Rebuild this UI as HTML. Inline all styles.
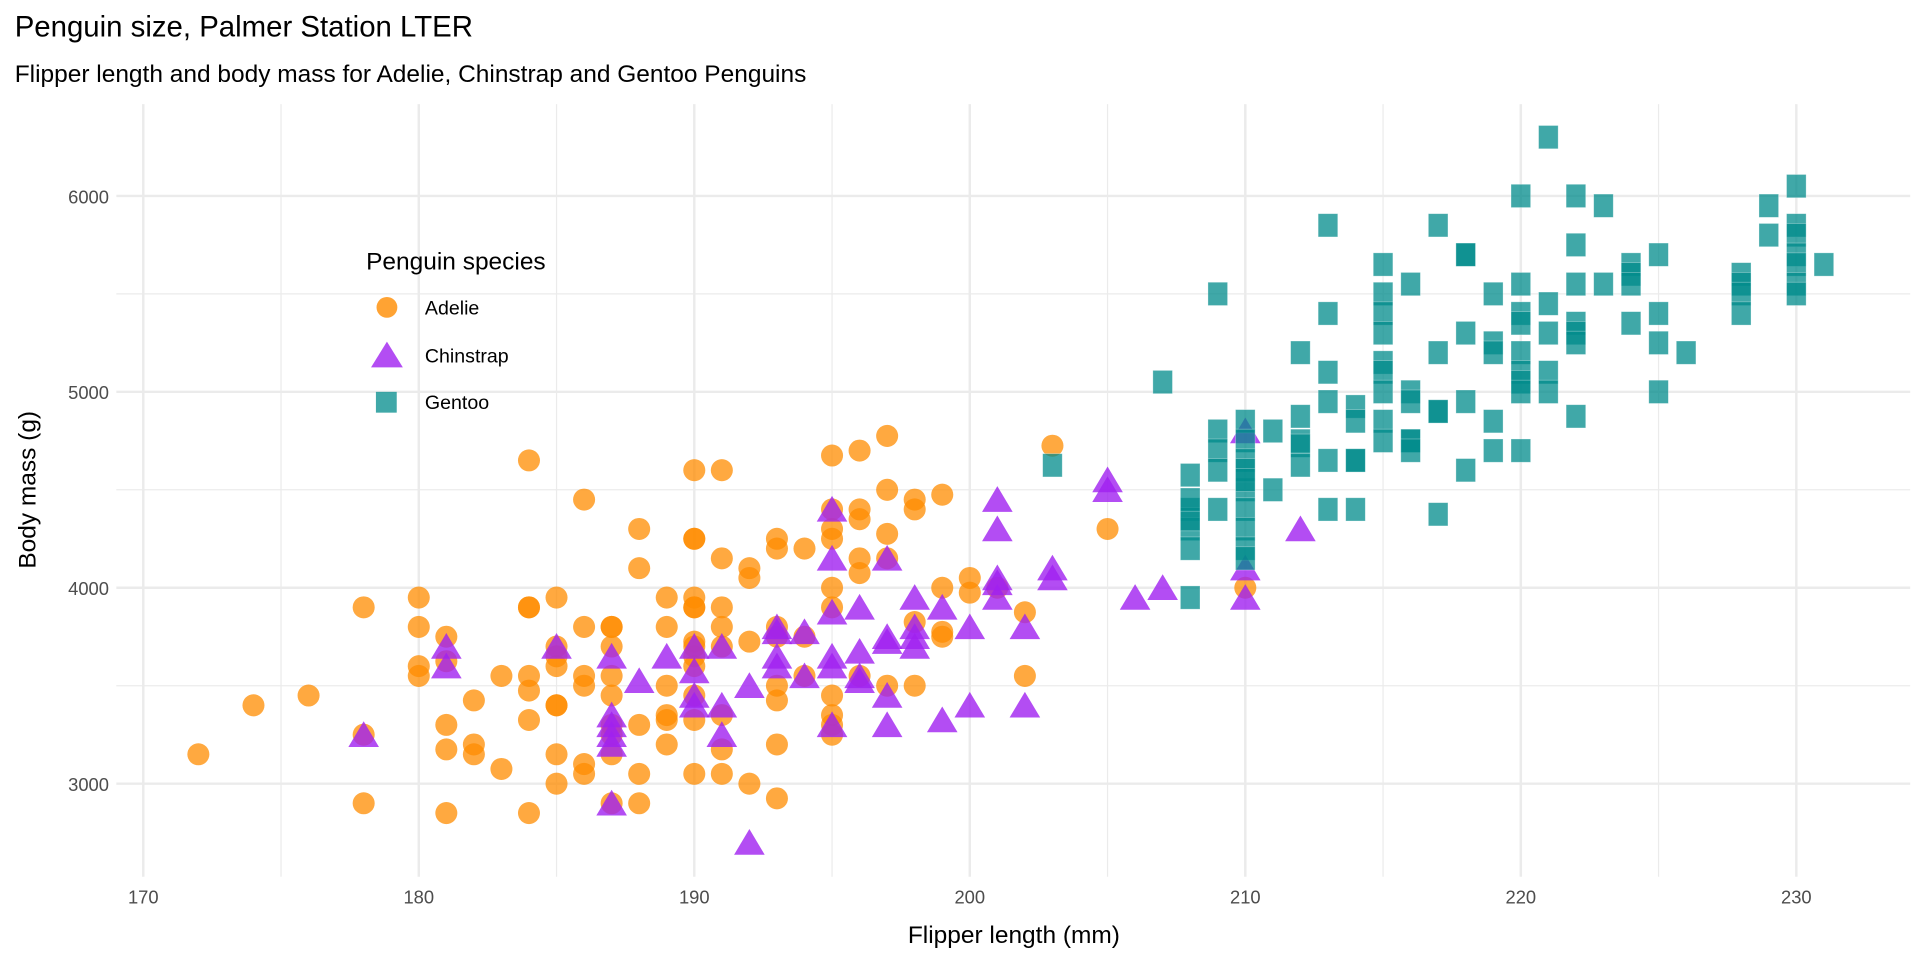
<!DOCTYPE html>
<html><head><meta charset="utf-8"><style>
html,body{margin:0;padding:0;background:#fff;overflow:hidden;}
svg text{font-family:"Liberation Sans",Arial,sans-serif;}
</style></head><body>
<svg id="chart" width="1920" height="960" viewBox="0 0 1568 784" xmlns="http://www.w3.org/2000/svg">
<rect width="1568" height="784" fill="#fff"/>
<text x="12" y="30" font-size="24" fill="#000">Penguin size, Palmer Station LTER</text>
<text x="12" y="67" font-size="20" fill="#000">Flipper length and body mass for Adelie, Chinstrap and Gentoo Penguins</text>
<g id="grid"></g>
<g id="xticks"></g>
<g id="yticks"></g>
<g id="points"></g>
<text x="828" y="770" font-size="20" text-anchor="middle" fill="#000">Flipper length (mm)</text>
<text transform="translate(29,400) rotate(-90)" font-size="20" text-anchor="middle" fill="#000">Body mass (g)</text>
<g>
<text x="299" y="220" font-size="20" fill="#000">Penguin species</text>
<circle cx="316" cy="251" r="8.5" fill="#FF8C00" fill-opacity="0.8"/>
<text x="347" y="257" font-size="16">Adelie</text>
<polygon points="316,279 329,300 303,300" fill="#A020F0" fill-opacity="0.8"/>
<text x="347" y="296" font-size="16">Chinstrap</text>
<rect x="307" y="320" width="17" height="17" fill="#008B8B" fill-opacity="0.75"/>
<text x="347" y="334" font-size="16">Gentoo</text>
</g>
</svg>
<script>
const xTicks=[170,180,190,200,210,220,230];
const yTicks=[3000,4000,5000,6000];
const adelie=[[172,3150],[174,3400],[176,3450],[178,3900],[178,3250],[178,2900],[180,3950],[180,3800],[180,3600],[180,3550],[181,3750],[181,3625],[181,3300],[181,3175],[181,2850],[182,3425],[182,3200],[182,3150],[183,3550],[183,3075],[184,4650],[184,3900],[184,3900],[184,3550],[184,3475],[184,3325],[184,2850],[185,3950],[185,3700],[185,3650],[185,3600],[185,3400],[185,3400],[185,3150],[185,3000],[186,4450],[186,3800],[186,3550],[186,3500],[186,3100],[186,3050],[187,3800],[187,3800],[187,3700],[187,3550],[187,3450],[187,3300],[187,3250],[187,3150],[187,2900],[188,4300],[188,4100],[188,3300],[188,3050],[188,2900],[189,3950],[189,3800],[189,3500],[189,3350],[189,3325],[189,3200],[190,4600],[190,4250],[190,4250],[190,3950],[190,3900],[190,3900],[190,3725],[190,3700],[190,3650],[190,3600],[190,3450],[190,3325],[190,3050],[191,4600],[191,4150],[191,3900],[191,3800],[191,3700],[191,3350],[191,3175],[191,3050],[192,4100],[192,4050],[192,3725],[192,3000],[193,4250],[193,4200],[193,3800],[193,3750],[193,3500],[193,3425],[193,3200],[193,2925],[194,4200],[194,3550],[194,3750],[195,4675],[195,4400],[195,4300],[195,4250],[195,4000],[195,3900],[195,3450],[195,3350],[195,3300],[195,3250],[196,4700],[196,4400],[196,4350],[196,4150],[196,4075],[196,3550],[197,4775],[197,4500],[197,4275],[197,4150],[197,3500],[198,4450],[198,4400],[198,3825],[198,3500],[199,4475],[199,4000],[199,3775],[199,3750],[200,4050],[200,3975],[201,4000],[202,3875],[202,3550],[203,4725],[205,4300],[210,4000]];
const chinstrap=[[178,3250],[181,3700],[181,3600],[185,3700],[187,3650],[187,3350],[187,3300],[187,3250],[187,3200],[187,2900],[188,3525],[189,3650],[190,3700],[190,3575],[190,3450],[190,3400],[191,3400],[191,3250],[191,3700],[192,3500],[192,2700],[193,3800],[193,3775],[193,3650],[193,3600],[194,3775],[194,3550],[195,4400],[195,4150],[195,3875],[195,3650],[195,3600],[195,3300],[196,3900],[196,3675],[196,3525],[196,3550],[197,4150],[197,3750],[197,3725],[197,3450],[197,3300],[198,3950],[198,3800],[198,3750],[198,3700],[199,3900],[199,3325],[200,3800],[200,3400],[201,4450],[201,4300],[201,4050],[201,4025],[201,3950],[202,3800],[202,3400],[203,4100],[203,4050],[205,4550],[205,4500],[206,3950],[207,4000],[210,4800],[210,4100],[210,3950],[212,4300]];
const gentoo=[[203,4625],[207,5050],[208,4575],[208,4400],[208,4300],[208,4200],[208,3950],[208,4350],[208,4450],[209,5500],[209,4800],[209,4700],[209,4600],[209,4400],[210,4850],[210,4750],[210,4650],[210,4500],[210,4400],[210,4300],[210,4200],[210,4150],[210,4600],[210,4550],[211,4800],[211,4500],[212,5200],[212,4875],[212,4750],[212,4725],[212,4625],[213,5850],[213,5400],[213,5100],[213,4950],[213,4650],[213,4400],[214,4925],[214,4850],[214,4650],[214,4650],[214,4400],[215,5650],[215,5500],[215,5400],[215,5300],[215,5150],[215,5100],[215,5000],[215,4850],[215,4750],[216,5550],[216,5000],[216,4950],[216,4750],[216,4750],[216,4700],[217,5850],[217,5200],[217,4900],[217,4900],[217,4375],[218,5700],[218,5700],[218,5300],[218,4950],[218,4600],[219,5500],[219,5250],[219,5200],[219,4850],[219,4700],[220,6000],[220,5550],[220,5400],[220,5350],[220,5200],[220,5100],[220,5050],[220,5000],[220,4700],[221,6300],[221,5450],[221,5300],[221,5100],[221,5000],[222,6000],[222,5750],[222,5550],[222,5350],[222,5300],[222,5250],[222,4875],[223,5950],[223,5550],[224,5650],[224,5600],[224,5550],[224,5350],[225,5700],[225,5400],[225,5250],[225,5000],[226,5200],[228,5600],[228,5550],[228,5500],[228,5400],[229,5950],[229,5800],[230,6050],[230,5850],[230,5800],[230,5700],[230,5650],[230,5550],[230,5500],[231,5650]];
const NS='http://www.w3.org/2000/svg';
const X=v=>117+(v-170)*22.5;
const Y=v=>640-(v-3000)*0.16;
const L=95,R=1560,T=85,B=716;
function mk(tag,attrs,parent){const e=document.createElementNS(NS,tag);for(const k in attrs)e.setAttribute(k,attrs[k]);parent.appendChild(e);return e;}
const grid=document.getElementById('grid');
for(let v=165;v<=235;v+=5){const x=X(v);if(x<L||x>R)continue;const major=v%10===0;
 const ln=mk('line',{x1:x,x2:x,y1:T,y2:B,stroke:'#ebebeb','stroke-width':major?2:1},grid);
 
 }
for(let v=2500;v<=6500;v+=500){const y=Y(v);if(y<T||y>B)continue;const major=v%1000===0;
 const ln=mk('line',{x1:L,x2:R,y1:y,y2:y,stroke:'#ebebeb','stroke-width':major?2:1},grid);
 
 }
const xg=document.getElementById('xticks');
xTicks.forEach(v=>{const t=mk('text',{x:X(v),y:738,'font-size':15,'text-anchor':'middle',fill:'#4d4d4d'},xg);t.textContent=v;
 
 });
const yg=document.getElementById('yticks');
yTicks.forEach(v=>{const t=mk('text',{x:89,y:Y(v)+6,'font-size':15,'text-anchor':'end',fill:'#4d4d4d'},yg);t.textContent=v;
 
 });
const pg=document.getElementById('points');
adelie.forEach(d=>{const c=mk('circle',{cx:X(d[0]),cy:Y(d[1]),r:9,fill:'#FF8C00','fill-opacity':0.75},pg);
 
 });
chinstrap.forEach(d=>{const x=X(d[0]),y=Y(d[1]);const p=mk('polygon',{points:`${x},${y-11} ${x+12.5},${y+10} ${x-12.5},${y+10}`,fill:'#A020F0','fill-opacity':0.8},pg);
 
 });
gentoo.forEach(d=>{const x=X(d[0]),y=Y(d[1]);const r=mk('rect',{x:x-8,y:y-9.5,width:16,height:19,fill:'#008B8B','fill-opacity':0.75,stroke:'#fff','stroke-opacity':0.4,'stroke-width':0.6},pg);
 
 });
</script>
</body></html>
